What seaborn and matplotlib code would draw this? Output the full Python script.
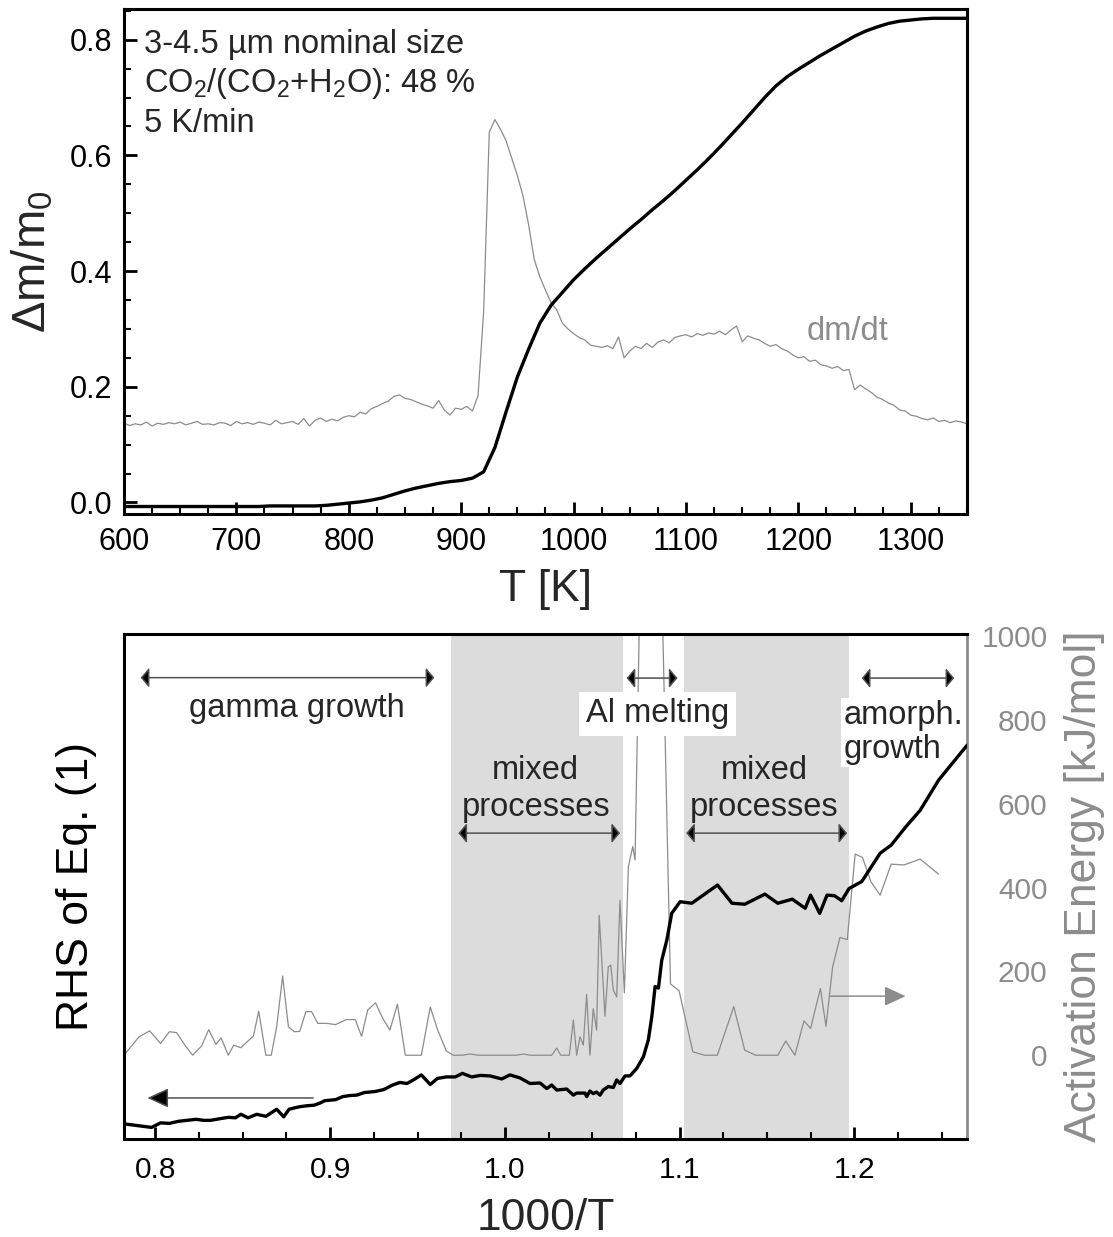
import numpy as np
import matplotlib
matplotlib.use("Agg")
import matplotlib.pyplot as plt
import seaborn as sns
from matplotlib.ticker import MultipleLocator, FormatStrFormatter

sns.set_theme(style="white")
plt.rcParams["font.family"] = ["Liberation Sans", "DejaVu Sans"]
plt.rcParams["mathtext.fontset"] = "custom"
plt.rcParams["mathtext.rm"] = "Liberation Sans"
plt.rcParams["mathtext.it"] = "Liberation Sans:italic"
plt.rcParams["mathtext.default"] = "regular"

# ---------------- upper panel: thermogravimetry ----------------
# dm/dt trace (same axis, arbitrary scaling), 5 K steps from 600 K
temp_rate = np.arange(600, 1351, 5)
dmdt = [
    0.137, 0.133, 0.136, 0.134, 0.139, 0.132, 0.137, 0.135, 0.138, 0.136,
    0.139, 0.134, 0.137, 0.140, 0.135, 0.136, 0.134, 0.138, 0.137, 0.133,
    0.140, 0.136, 0.138, 0.135, 0.139, 0.137, 0.134, 0.142, 0.136, 0.138,
    0.140, 0.135, 0.145, 0.132, 0.142, 0.146, 0.140, 0.144, 0.141, 0.147,
    0.150, 0.148, 0.156, 0.153, 0.162, 0.166, 0.171, 0.175, 0.183, 0.186,
    0.180, 0.178, 0.174, 0.170, 0.167, 0.163, 0.176, 0.160, 0.151, 0.163,
    0.161, 0.166, 0.158, 0.185, 0.330, 0.640, 0.662, 0.645, 0.625, 0.595,
    0.565, 0.530, 0.480, 0.420, 0.390, 0.367, 0.345, 0.333, 0.310, 0.300,
    0.292, 0.285, 0.281, 0.272, 0.270, 0.268, 0.271, 0.266, 0.286, 0.250,
    0.262, 0.270, 0.266, 0.275, 0.268, 0.277, 0.281, 0.276, 0.285, 0.288,
    0.290, 0.286, 0.292, 0.289, 0.293, 0.291, 0.296, 0.290, 0.298, 0.305,
    0.278, 0.288, 0.284, 0.281, 0.275, 0.270, 0.273, 0.266, 0.262, 0.255,
    0.250, 0.252, 0.244, 0.246, 0.238, 0.236, 0.232, 0.235, 0.228, 0.230,
    0.195, 0.203, 0.196, 0.190, 0.182, 0.178, 0.172, 0.168, 0.160, 0.158,
    0.151, 0.149, 0.145, 0.143, 0.146, 0.140, 0.142, 0.138, 0.141, 0.139,
    0.136,
]

# relative mass gain, 10 K steps from 600 K
temp_mass = np.arange(600, 1351, 10)
mass_gain = [
    -0.007, -0.007, -0.007, -0.007, -0.007, -0.007, -0.007, -0.007, -0.007, -0.007,
    -0.007, -0.007, -0.007, -0.006, -0.006, -0.006, -0.006, -0.006, -0.005, -0.003,
    -0.001, 0.001, 0.004, 0.008, 0.014, 0.020, 0.025, 0.029, 0.033, 0.036,
    0.038, 0.042, 0.053, 0.095, 0.157, 0.217, 0.265, 0.310, 0.341, 0.363,
    0.385, 0.404, 0.422, 0.439, 0.456, 0.473, 0.489, 0.506, 0.522, 0.539,
    0.557, 0.575, 0.594, 0.614, 0.635, 0.656, 0.678, 0.700, 0.720, 0.736,
    0.749, 0.761, 0.773, 0.784, 0.795, 0.806, 0.815, 0.822, 0.828, 0.832,
    0.834, 0.836, 0.837, 0.837, 0.837, 0.837,
]

info_lines = ["3-4.5 µm nominal size",
              "CO$_2$/(CO$_2$+H$_2$O): 48 %",
              "5 K/min"]

# ---------------- lower panel: Arrhenius-type analysis ----------------
rhs_x = [0.782, 0.7978, 0.8029, 0.8080, 0.8130, 0.8180, 0.8233, 0.8275, 0.8315,
         0.8365, 0.8417, 0.8458, 0.8489, 0.8530, 0.8580, 0.8632, 0.8694, 0.8734,
         0.8765, 0.8800, 0.8826, 0.8870, 0.8908, 0.8940, 0.8970, 0.9031, 0.9072,
         0.9110, 0.9153, 0.9195, 0.9256, 0.9307, 0.9358, 0.9399, 0.9440, 0.9481,
         0.9522, 0.9573, 0.9614, 0.9665, 0.9716, 0.9757, 0.9810, 0.9860, 0.9915,
         0.9982, 1.0029, 1.0087, 1.0144, 1.0201, 1.0240, 1.0268, 1.0297, 1.0354,
         1.0392, 1.0411, 1.0459, 1.0468, 1.0487, 1.0506, 1.0525, 1.0545, 1.0563,
         1.0592, 1.0621, 1.0640, 1.0659, 1.0688, 1.0716, 1.0755, 1.0793, 1.0821,
         1.0841, 1.0860, 1.0879, 1.0898, 1.0927, 1.0955, 1.1003, 1.1070, 1.1217,
         1.1300, 1.1373, 1.1488, 1.1562, 1.1645, 1.1719, 1.1750, 1.1802, 1.1844,
         1.1886, 1.1928, 1.1970, 1.2043, 1.2148, 1.2211, 1.2294, 1.2377, 1.2483,
         1.2646]
rhs_y = [0.30, 0.23, 0.32, 0.31, 0.35, 0.37, 0.39, 0.37, 0.37,
         0.40, 0.43, 0.42, 0.49, 0.42, 0.49, 0.45, 0.59, 0.44,
         0.59, 0.62, 0.64, 0.66, 0.67, 0.71, 0.76, 0.78, 0.84,
         0.86, 0.87, 0.92, 0.94, 0.98, 1.07, 1.12, 1.10, 1.18,
         1.27, 1.08, 1.20, 1.23, 1.23, 1.30, 1.23, 1.26, 1.25,
         1.19, 1.27, 1.21, 1.10, 1.11, 1.00, 1.07, 0.97, 0.99,
         0.87, 0.91, 0.91, 0.84, 0.95, 0.90, 0.93, 0.87, 0.97,
         1.04, 1.02, 1.17, 1.10, 1.25, 1.25, 1.40, 1.63, 1.96,
         2.42, 3.02, 2.99, 3.54, 3.94, 4.47, 4.70, 4.67, 5.03,
         4.67, 4.65, 4.85, 4.67, 4.75, 4.57, 4.83, 4.47, 4.83,
         4.82, 4.72, 4.96, 5.10, 5.66, 5.82, 6.18, 6.51, 7.11,
         7.80]

ea_x = [0.782, 0.7906, 0.7967, 0.8029, 0.8080, 0.8121, 0.8172, 0.8213, 0.8264,
        0.8305, 0.8346, 0.8376, 0.8417, 0.8448, 0.8489, 0.8561, 0.8591, 0.8632,
        0.8663, 0.8694, 0.8728, 0.8761, 0.8795, 0.8826, 0.8861, 0.8894, 0.8929,
        0.8980, 0.9031, 0.9092, 0.9144, 0.9180, 0.9215, 0.9260, 0.9301, 0.9342,
        0.9385, 0.9430, 0.9522, 0.9573, 0.9614, 0.9665, 0.9704, 0.9757, 0.9800,
        0.9848, 1.0068, 1.0106, 1.0144, 1.0268, 1.0297, 1.0320, 1.0369, 1.0392,
        1.0411, 1.0430, 1.0449, 1.0468, 1.0487, 1.0506, 1.0525, 1.0540, 1.0573,
        1.0592, 1.0606, 1.0621, 1.0640, 1.0659, 1.0684, 1.0707, 1.0732, 1.0745,
        1.0775, 1.0835, 1.0897, 1.0948, 1.0997, 1.1076, 1.1143, 1.1216, 1.1310,
        1.1373, 1.1436, 1.1562, 1.1608, 1.1660, 1.1712, 1.1750, 1.1806, 1.1838,
        1.1876, 1.1918, 1.1960, 1.2005, 1.2047, 1.2095, 1.2148, 1.2211, 1.2284,
        1.2377, 1.2483]
ea_y = [0, 44, 58, 28, 56, 54, 22, 0, 22,
        61, 26, 41, 0, 24, 18, 46, 105, 0,
        0, 68, 189, 68, 56, 57, 104, 104, 76,
        76, 73, 85, 85, 45, 108, 125, 88, 60,
        122, 0, 0, 115, 62, 10, 0, 0, 3,
        0, 0, 3, 0, 0, 17, 0, 0, 84,
        0, 44, 24, 145, 0, 111, 60, 334, 93,
        211, 215, 155, 139, 370, 149, 450, 498, 466,
        1150, 2200, 1150, 170, 154, 8, 0, 0, 116,
        12, 0, 0, 34, 0, 82, 64, 159, 69,
        211, 281, 276, 480, 472, 414, 382, 456, 454,
        468, 432]

# process regimes (1000/T ranges)
mixed_spans = [(0.9690, 1.0678), (1.1028, 1.1972)]

GREY = "#8c8c8c"
SHADE = "#dcdcdc"
TXT = 23.5
TICK = 22
LAB = 32

fig = plt.figure(figsize=(11.13, 12.37), dpi=100)
ax_top = fig.add_axes([0.1114, 0.5845, 0.7574, 0.4082])
ax_bot = fig.add_axes([0.1114, 0.0792, 0.7574, 0.4082])
# overlay axes for the RHS curve (drawn above the regime labels)
ax_rhs = ax_bot.twinx()

# ---- upper panel ----
sns.lineplot(x=temp_rate, y=dmdt, ax=ax_top, color=GREY, lw=0.9)
sns.lineplot(x=temp_mass, y=mass_gain, ax=ax_top, color="black", lw=2.4)
ax_top.set_xlim(600, 1350)
ax_top.set_ylim(-0.0199, 0.853)
ax_top.xaxis.set_major_locator(MultipleLocator(100))
ax_top.xaxis.set_minor_locator(MultipleLocator(25))
ax_top.yaxis.set_major_locator(MultipleLocator(0.2))
ax_top.yaxis.set_minor_locator(MultipleLocator(0.05))
ax_top.yaxis.set_major_formatter(FormatStrFormatter("%.1f"))
ax_top.tick_params(which="both", direction="in", left=True, bottom=True,
                   top=False, right=False, colors="black", labelsize=TICK)
ax_top.tick_params(which="major", length=9, width=2)
ax_top.tick_params(which="minor", length=5, width=1.5)
ax_top.tick_params(axis="x", which="both", pad=9.5)
ax_top.tick_params(axis="y", which="both", pad=8.6)
for sp in ax_top.spines.values():
    sp.set_color("black")
    sp.set_linewidth(2.2)
ax_top.set_xlabel("T [K]", fontsize=LAB)
ax_top.set_ylabel("Δm/m$_0$", fontsize=LAB + 2)
ax_top.xaxis.set_label_coords(0.5, -0.150)
ax_top.yaxis.set_label_coords(-0.108, 0.5)
ax_top.xaxis.label.set_va("center")
ax_top.yaxis.label.set_va("center")

for txt, yb in zip(info_lines, [0.7764, 0.710, 0.641]):
    ax_top.text(617.5, yb, txt, fontsize=TXT, va="baseline", ha="left")
ax_top.text(1207, 0.281, "dm/dt", fontsize=TXT, color=GREY, va="baseline")

# ---- lower panel ----
# host axes: shading, activation energy (right scale) and regime labels
for x0, x1 in mixed_spans:
    ax_bot.axvspan(x0, x1, color=SHADE, lw=0, zorder=0)
sns.lineplot(x=ea_x, y=ea_y, ax=ax_bot, color=GREY, lw=0.9, zorder=2)
ax_bot.set_xlim(0.782, 1.2645)
ax_bot.set_ylim(-200, 1005)
ax_bot.set_yticks([0, 200, 400, 600, 800, 1000])
ax_bot.yaxis.tick_right()
ax_bot.tick_params(axis="y", which="both", length=0, pad=58, labelsize=TICK - 0.5,
                   labelcolor=GREY, right=True, left=False,
                   labelright=True, labelleft=False)
for lab in ax_bot.get_yticklabels():
    lab.set_horizontalalignment("right")
ax_bot.xaxis.set_major_locator(MultipleLocator(0.1))
ax_bot.xaxis.set_minor_locator(MultipleLocator(0.025))
ax_bot.xaxis.set_major_formatter(FormatStrFormatter("%.1f"))
ax_bot.tick_params(axis="x", which="both", direction="in", bottom=True,
                   top=False, colors="black", labelsize=TICK - 0.5, pad=12)
ax_bot.tick_params(axis="x", which="major", length=9, width=2)
ax_bot.tick_params(axis="x", which="minor", length=5, width=1.5)
for name, sp in ax_bot.spines.items():
    sp.set_color("black")
    sp.set_linewidth(2.2)
ax_bot.spines["right"].set_color(GREY)
ax_bot.spines["right"].set_linewidth(2)
ax_bot.set_xlabel("1000/T", fontsize=LAB)
ax_bot.xaxis.set_label_coords(0.5, -0.157)
ax_bot.xaxis.label.set_va("center")
ax_bot.yaxis.set_label_position("right")
ax_bot.set_ylabel("Activation Energy [kJ/mol]", fontsize=LAB, color=GREY)
ax_bot.yaxis.set_label_coords(1.140, 0.5)
ax_bot.yaxis.label.set_va("center")
ax_bot.yaxis.label.set_ha("center")
ax_bot.yaxis.label.set_rotation(90)

# regime annotations
dbl = dict(arrowstyle="<|-|>,head_length=0.25,head_width=0.3",
           mutation_scale=20, fc="black", ec="#505050", lw=1.1,
           shrinkA=0, shrinkB=0)
ranges = [(0.7916, 0.9596, 901), (0.9734, 1.0659, 530),
          (1.0697, 1.0988, 900), (1.1038, 1.1959, 530), (1.2043, 1.2572, 900)]
for x0, x1, yy in ranges:
    ax_bot.annotate("", xy=(x1, yy), xytext=(x0, yy), arrowprops=dbl, zorder=6)

ax_bot.text(0.881, 827, "gamma growth", fontsize=TXT, ha="center", va="center", zorder=7)
ax_bot.text(1.0177, 635, "mixed\nprocesses", fontsize=TXT, ha="center",
            va="center", linespacing=1.27, zorder=7)
ax_bot.text(1.1483, 635, "mixed\nprocesses", fontsize=TXT, ha="center",
            va="center", linespacing=1.27, zorder=7)
ax_bot.text(1.0874, 815, "Al melting", fontsize=TXT, ha="center", va="center",
            zorder=7, bbox=dict(boxstyle="square,pad=0.2", fc="white", ec="none"))
ax_bot.text(1.1939, 770, "amorph.\ngrowth", fontsize=TXT, ha="left", va="center",
            linespacing=1.1, zorder=7,
            bbox=dict(boxstyle="square,pad=0.08", fc="white", ec="none"))

# axis-pointer arrows
ax_bot.annotate("", xy=(0.7954, -102), xytext=(0.8903, -102), zorder=6,
                arrowprops=dict(arrowstyle="-|>,head_length=0.65,head_width=0.3",
                                mutation_scale=20, fc="black", ec="#505050",
                                lw=1.1, shrinkA=0, shrinkB=0))
ax_bot.annotate("", xy=(1.2294, 141), xytext=(1.1865, 141), zorder=6,
                arrowprops=dict(arrowstyle="-|>,head_length=0.65,head_width=0.3",
                                mutation_scale=20, fc=GREY, ec=GREY,
                                lw=1.1, shrinkA=0, shrinkB=0))

# RHS of Eq. (1): left scale without numbers
sns.lineplot(x=rhs_x, y=rhs_y, ax=ax_rhs, color="black", lw=2.4)
ax_rhs.set_xlim(0.782, 1.2645)
ax_rhs.set_ylim(0, 10)
ax_rhs.set_yticks([])
for sp in ax_rhs.spines.values():
    sp.set_visible(False)
ax_rhs.yaxis.set_label_position("left")
ax_rhs.set_ylabel("RHS of Eq. (1)", fontsize=LAB, color="black")
ax_rhs.yaxis.set_label_coords(-0.0558, 0.5)
ax_rhs.yaxis.label.set_va("center")
ax_rhs.yaxis.label.set_ha("center")
ax_rhs.yaxis.label.set_rotation(90)

fig.savefig("out.png", dpi=100)
